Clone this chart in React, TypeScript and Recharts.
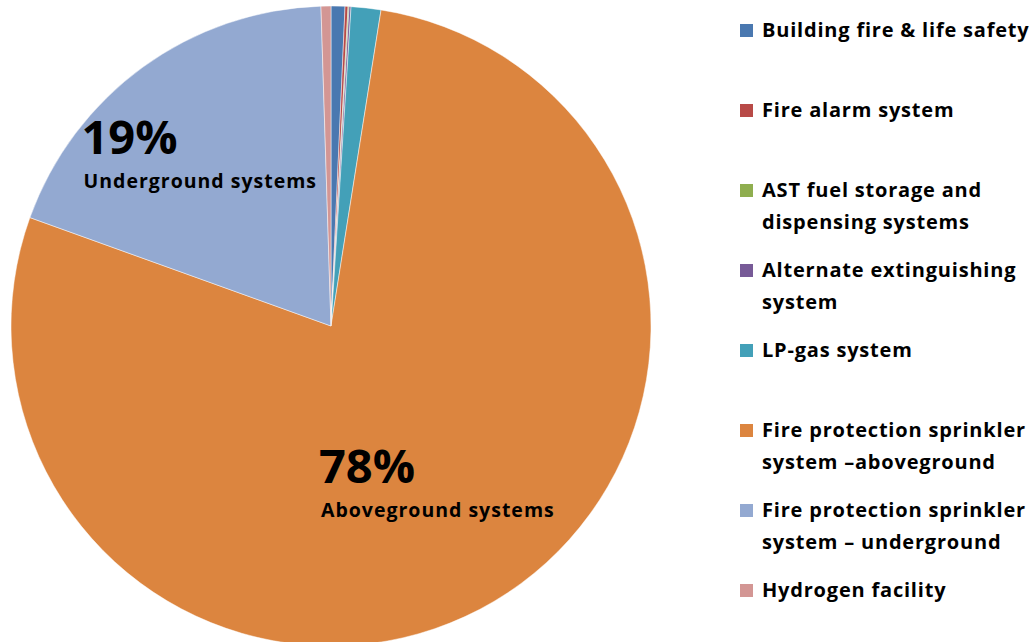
import React from 'react';
import { PieChart, Pie, Cell, Legend } from 'recharts';

// categories, in clockwise order from 12 o'clock
const categories = [
  'Building fire & life safety',
  'Fire alarm system',
  'AST fuel storage and dispensing systems',
  'Alternate extinguishing system',
  'LP-gas system',
  'Fire protection sprinkler system –aboveground',
  'Fire protection sprinkler system – underground',
  'Hydrogen facility',
];

// share of permits, in percent
const shares = [0.7, 0.15, 0.05, 0.1, 1.5, 78, 19, 0.5];

// legend text, split the way the original wraps it
const legendLines = [
  ['Building fire & life safety'],
  ['Fire alarm system'],
  ['AST fuel storage and', 'dispensing systems'],
  ['Alternate extinguishing', 'system'],
  ['LP-gas system'],
  ['Fire protection sprinkler', 'system –aboveground'],
  ['Fire protection sprinkler', 'system – underground'],
  ['Hydrogen facility'],
];

// in-slice captions (only the two big slices get one)
const sliceCaptions = ['', '', '', '', '', 'Aboveground systems', 'Underground systems', ''];

const COLORS = ['#4A78B0', '#B84A47', '#8FAE4F', '#775A97', '#43A0B8', '#DC853F', '#93A9D1', '#D39694'];

const FONT = '"Open Sans", Lato, sans-serif';

const data = categories.map((name, i) => ({ name, value: shares[i], caption: sliceCaptions[i] }));

const RADIAN = Math.PI / 180;

const renderLabel = (props: any) => {
  const { cx, cy, midAngle, outerRadius, percent, payload } = props;
  const caption = payload?.caption ?? payload?.payload?.caption;
  if (!caption) return null;
  const r = outerRadius * 0.635;
  const a = (midAngle + 2.5) * RADIAN;
  const x = cx + r * Math.cos(-a);
  const y = cy + r * Math.sin(-a);
  const left = x - 121;
  return (
    <g>
      <text x={left - 2} y={y - 13} fill="#000" fontFamily={FONT} fontWeight={700} fontSize={47}>
        {Math.round(percent * 100)}%
      </text>
      <text x={left} y={y + 21} fill="#000" fontFamily={FONT} fontWeight={700} fontSize={19.5} letterSpacing={1}>
        {caption}
      </text>
    </g>
  );
};

const renderLegend = () => (
  <div style={{ fontFamily: FONT, fontWeight: 700, fontSize: 20, letterSpacing: 0.8, color: '#000' }}>
    {categories.map((name, i) => (
      <div key={name} style={{ height: 80, display: 'flex', alignItems: 'flex-start' }}>
        <div style={{ width: 13, height: 13, background: COLORS[i], marginTop: 9.5, marginRight: 9, flexShrink: 0 }} />
        <div style={{ lineHeight: '32px', whiteSpace: 'nowrap' }}>
          {legendLines[i].map((line) => (
            <div key={line}>{line}</div>
          ))}
        </div>
      </div>
    ))}
  </div>
);

export default function App() {
  return (
    <div style={{ position: 'absolute', left: 0, top: 0, width: 1036, height: 642, background: '#fff', overflow: 'hidden' }}>
      <PieChart width={1036} height={642} margin={{ top: 0, right: 0, bottom: 0, left: 0 }}>
        <Pie
          data={data}
          dataKey="value"
          nameKey="name"
          cx={331}
          cy={326}
          outerRadius={320}
          startAngle={90}
          endAngle={-270}
          stroke="#ffffff"
          strokeOpacity={0.6}
          strokeWidth={0.8}
          label={renderLabel}
          labelLine={false}
          isAnimationActive={false}
        >
          {data.map((d, i) => (
            <Cell key={d.name} fill={COLORS[i]} />
          ))}
        </Pie>
        <Legend
          content={renderLegend}
          layout="vertical"
          wrapperStyle={{ left: 740, top: 14, width: 296 }}
        />
      </PieChart>
    </div>
  );
}
